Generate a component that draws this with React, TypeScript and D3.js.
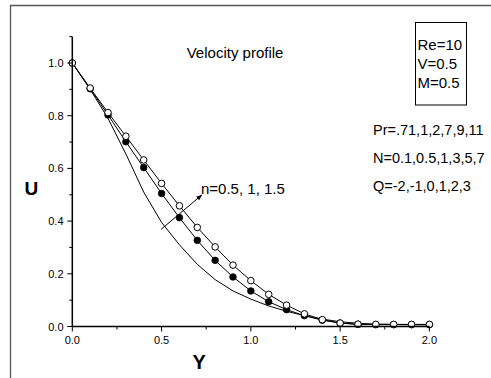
import React from "react";
import * as d3 from "d3";

const yValues = [0, 0.1, 0.2, 0.3, 0.4, 0.5, 0.6, 0.7, 0.8, 0.9, 1.0, 1.1, 1.2, 1.3, 1.4, 1.5, 1.6, 1.7, 1.8, 1.9, 2.0];
const uN05 = [1.0, 0.9, 0.79, 0.655, 0.51, 0.395, 0.31, 0.236, 0.178, 0.135, 0.104, 0.078, 0.058, 0.041, 0.028, 0.018, 0.012, 0.009, 0.008, 0.007, 0.007];
const uN10 = [1.0, 0.902, 0.803, 0.701, 0.603, 0.505, 0.413, 0.327, 0.251, 0.188, 0.135, 0.094, 0.064, 0.041, 0.024, 0.013, 0.008, 0.007, 0.007, 0.007, 0.007];
const uN15 = [1.0, 0.905, 0.812, 0.722, 0.632, 0.543, 0.458, 0.376, 0.302, 0.233, 0.174, 0.122, 0.081, 0.048, 0.026, 0.013, 0.009, 0.008, 0.008, 0.008, 0.008];

const xMajorTicks = [0, 0.5, 1.0, 1.5, 2.0];
const xMinorTicks = [0.25, 0.75, 1.25, 1.75];
const yMajorTicks = [0, 0.2, 0.4, 0.6, 0.8, 1.0];
const yMinorTicks = [0.1, 0.3, 0.5, 0.7, 0.9, 1.1];

const titleText = "Velocity profile";
const paramLines = ["Re=10", "V=0.5", "M=0.5"];
const noteLines = ["Pr=.71,1,2,7,9,11", "N=0.1,0.5,1,3,5,7", "Q=-2,-1,0,1,2,3"];
const arrowLabel = "n=0.5, 1, 1.5";
const arrowFrom = [0.498, 0.369];
const arrowTo = [0.725, 0.499];

const FONT = "'Liberation Sans', Arial, Helvetica, sans-serif";

export default function App() {
  const x = d3.scaleLinear().domain([0, 2]).range([72.3, 429.4]);
  const y = d3.scaleLinear().domain([0, 1.1]).range([326.5, 36.65]);

  const line = d3
    .line<number>()
    .x((_, i) => x(yValues[i]))
    .y((d) => y(d));

  const ax0 = x(arrowFrom[0]);
  const ay0 = y(arrowFrom[1]);
  const ax1 = x(arrowTo[0]);
  const ay1 = y(arrowTo[1]);

  return (
    <svg
      width={491}
      height={378}
      style={{ position: "absolute", left: 0, top: 0, background: "#fff" }}
      fontFamily={FONT}
    >
      <defs>
        <marker id="ah" viewBox="0 0 10 10" refX="9" refY="5" markerWidth="6" markerHeight="6" orient="auto">
          <path d="M0,1 L10,5 L0,9 z" fill="#000" />
        </marker>
      </defs>
      <rect x={0} y={0} width={491} height={378} fill="#fff" />
      {/* outer frame */}
      <path d="M10.5,378 L10.5,5.5 L491,5.5" fill="none" stroke="#555" strokeWidth={1.3} />

      {/* curves */}
      <path d={line(uN05) || ""} fill="none" stroke="#000" strokeWidth={1} />
      <path d={line(uN10) || ""} fill="none" stroke="#000" strokeWidth={1} />
      <path d={line(uN15) || ""} fill="none" stroke="#000" strokeWidth={1} />
      {uN10.map((d, i) => (
        <circle key={"f" + i} cx={x(yValues[i])} cy={y(d)} r={3.3} fill="#000" stroke="#000" strokeWidth={0.8} />
      ))}
      {uN15.map((d, i) => (
        <circle key={"o" + i} cx={x(yValues[i])} cy={y(d)} r={3.3} fill="#fff" stroke="#000" strokeWidth={1} />
      ))}

      {/* axes */}
      <line x1={x(0)} x2={x(2)} y1={y(0)} y2={y(0)} stroke="#000" strokeWidth={1.5} />
      <line x1={x(0)} x2={x(0)} y1={y(0)} y2={y(1.1)} stroke="#000" strokeWidth={1.5} />
      {xMajorTicks.map((t) => (
        <g key={"xm" + t}>
          <line x1={x(t)} x2={x(t)} y1={y(0)} y2={y(0) + 5} stroke="#000" strokeWidth={1} />
          <text x={x(t)} y={344} textAnchor="middle" fontSize={11} fill="#000">
            {t.toFixed(1)}
          </text>
        </g>
      ))}
      {xMinorTicks.map((t) => (
        <line key={"xn" + t} x1={x(t)} x2={x(t)} y1={y(0)} y2={y(0) + 3} stroke="#000" strokeWidth={1} />
      ))}
      {yMajorTicks.map((t) => (
        <g key={"ym" + t}>
          <line x1={x(0) - 5} x2={x(0)} y1={y(t)} y2={y(t)} stroke="#000" strokeWidth={1} />
          <text x={63.5} y={y(t) + 4} textAnchor="end" fontSize={11} fill="#000">
            {t.toFixed(1)}
          </text>
        </g>
      ))}
      {yMinorTicks.map((t) => (
        <line key={"yn" + t} x1={x(0) - 3} x2={x(0)} y1={y(t)} y2={y(t)} stroke="#000" strokeWidth={1} />
      ))}

      {/* axis titles */}
      <text x={24.5} y={195} fontSize={19} fontWeight="bold" fill="#000">U</text>
      <text x={192.5} y={369} fontSize={20} fontWeight="bold" fill="#000">Y</text>

      {/* title */}
      <text x={186.7} y={58} fontSize={15} fill="#000">{titleText}</text>

      {/* parameter box */}
      <rect x={415.5} y={22.5} width={51} height={82.5} fill="none" stroke="#000" strokeWidth={1} />
      {paramLines.map((s, i) => (
        <text key={s} x={417.5} y={50 + i * 19} fontSize={15} fill="#000">{s}</text>
      ))}

      {/* notes */}
      {noteLines.map((s, i) => (
        <text key={s} x={373} y={135 + i * 28} fontSize={14.5} fill="#000">{s}</text>
      ))}

      {/* arrow */}
      <line x1={ax0} y1={ay0} x2={ax1} y2={ay1} stroke="#000" strokeWidth={1} markerEnd="url(#ah)" />
      <text x={201} y={193.5} fontSize={15} fill="#000">{arrowLabel}</text>
    </svg>
  );
}
